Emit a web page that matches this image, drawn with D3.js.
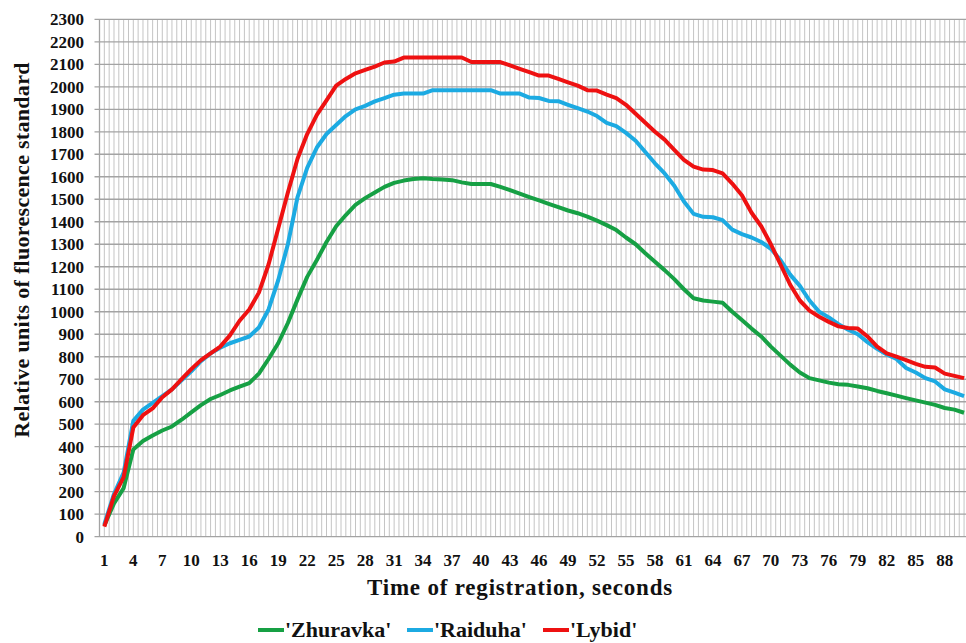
<!DOCTYPE html>
<html lang="en">
<head>
  <meta charset="UTF-8">
  <title>Relative units of fluorescence standard</title>
  <script src="https://d3js.org/d3.v7.min.js"></script>
  <style>
    body { margin: 0; background: #fff; }
    svg { display: block; }
  </style>
</head>
<body>
<div id="chart"></div>
<script>
  // categories: seconds 1..90
  const seconds = d3.range(1, 91);

  const zhuravka = [
    50, 148, 216, 388, 425, 450, 472, 490, 520, 553,
    585, 612, 630, 650, 667, 683, 725, 790, 860, 950,
    1055, 1155, 1230, 1310, 1380, 1430, 1475, 1505, 1530, 1555,
    1573, 1583, 1590, 1593, 1590, 1588, 1585, 1575, 1568, 1568,
    1568, 1555, 1541, 1525, 1510, 1495, 1480, 1465, 1450, 1438,
    1423, 1405, 1385, 1363, 1330, 1300, 1260, 1222, 1185, 1145,
    1100, 1060, 1050, 1045, 1040, 1000, 963, 925, 890, 845,
    805, 765, 730, 705, 695, 685, 678, 675, 668, 660,
    648, 638, 627, 616, 606, 596, 586, 572, 565, 551
  ];

  const raiduha = [
    55, 190, 285, 515, 565, 595, 625, 655, 695, 735,
    780, 815, 840, 860, 875, 890, 930, 1010, 1140, 1300,
    1510, 1640, 1730, 1790, 1830, 1870, 1900, 1915, 1935, 1950,
    1965, 1970, 1970, 1970, 1985, 1985, 1985, 1985, 1985, 1985,
    1985, 1970, 1970, 1970, 1952, 1950, 1937, 1936, 1920, 1905,
    1890, 1870, 1840, 1825, 1795, 1760, 1710, 1660, 1615, 1560,
    1490, 1435, 1422, 1420, 1407, 1365, 1345, 1330, 1310, 1280,
    1230, 1165, 1115, 1050, 1000, 975, 945, 920, 900, 865,
    835, 810, 790, 750, 730, 705, 690, 655, 640, 625
  ];

  const lybid = [
    45, 180, 265, 485, 540, 570, 620, 655, 700, 745,
    785, 815, 845, 895, 960, 1010, 1085, 1210, 1370, 1530,
    1680, 1790, 1875, 1940, 2005, 2035, 2060, 2075, 2090, 2108,
    2112, 2130, 2130, 2130, 2130, 2130, 2130, 2130, 2110, 2110,
    2110, 2110, 2095, 2080, 2065, 2050, 2050, 2035, 2020, 2005,
    1985, 1983, 1965, 1950, 1920, 1880, 1840, 1800, 1765, 1720,
    1675, 1645, 1632, 1630, 1615, 1570, 1518, 1440, 1380, 1300,
    1210, 1120, 1050, 1005, 978, 955, 935, 928, 925, 890,
    845, 815, 800, 785, 768, 755, 752, 725, 715, 705
  ];

  const seriesNames = ["'Zhuravka'", "'Raiduha'", "'Lybid'"];
  const seriesColors = ["#16a044", "#1caae2", "#ee1111"];
  const seriesValues = [zhuravka, raiduha, lybid];

  const yTicks = d3.range(0, 2301, 100);
  const xTickLabels = seconds.filter(s => (s - 1) % 3 === 0);

  const width = 966, height = 643;
  const plotLeft = 99.5, plotTop = 19.3, plotBottom = 536.7;
  const step = 9.66;
  const plotRight = plotLeft + step * seconds.length;
  const serif = "'Liberation Serif', 'DejaVu Serif Condensed', 'DejaVu Serif', serif";

  const svg = d3.select('#chart').append('svg')
    .attr('width', width)
    .attr('height', height)
    .attr('font-family', serif)
    .attr('font-weight', 'bold');

  const x = d3.scaleBand()
    .domain(seconds)
    .range([plotLeft, plotRight]);

  const y = d3.scaleLinear()
    .domain([0, 2300])
    .range([plotBottom, plotTop]);

  // vertical gridlines at category edges and centres
  const halfSteps = d3.range(0, seconds.length * 2 + 1).map(i => plotLeft + i * x.bandwidth() / 2);
  svg.append('g')
    .selectAll('line')
    .data(halfSteps)
    .enter().append('line')
    .attr('x1', d => d).attr('x2', d => d)
    .attr('y1', plotTop).attr('y2', plotBottom)
    .attr('stroke', '#c4c4c4')
    .attr('stroke-width', 1);

  // horizontal gridlines
  svg.append('g')
    .selectAll('line')
    .data(yTicks)
    .enter().append('line')
    .attr('x1', plotLeft - 5).attr('x2', plotRight)
    .attr('y1', d => y(d)).attr('y2', d => y(d))
    .attr('stroke', '#a3a3a3')
    .attr('stroke-width', 1.3);

  // y axis line
  svg.append('line')
    .attr('x1', plotLeft).attr('x2', plotLeft)
    .attr('y1', plotTop).attr('y2', plotBottom)
    .attr('stroke', '#a3a3a3')
    .attr('stroke-width', 1.3);

  // y tick labels
  svg.append('g')
    .selectAll('text')
    .data(yTicks)
    .enter().append('text')
    .attr('x', 84)
    .attr('y', d => y(d))
    .attr('dy', '0.35em')
    .attr('text-anchor', 'end')
    .attr('fill', '#111')
    .style('font-size', '17px')
    .text(d => d);

  // x tick labels
  svg.append('g')
    .selectAll('text')
    .data(xTickLabels)
    .enter().append('text')
    .attr('x', d => x(d) + x.bandwidth() / 2)
    .attr('y', 566)
    .attr('text-anchor', 'middle')
    .attr('fill', '#111')
    .style('font-size', '17px')
    .text(d => d);

  // axis titles
  svg.append('text')
    .attr('x', 520)
    .attr('y', 595)
    .attr('text-anchor', 'middle')
    .attr('fill', '#111')
    .style('font-size', '23px')
    .style('letter-spacing', '0.8px')
    .text('Time of registration, seconds');

  svg.append('text')
    .attr('transform', 'translate(29,250) rotate(-90)')
    .attr('text-anchor', 'middle')
    .attr('fill', '#111')
    .style('font-size', '22px')
    .style('letter-spacing', '0.3px')
    .text('Relative units of fluorescence standard');

  // lines
  const line = d3.line()
    .x((d, i) => x(seconds[i]) + x.bandwidth() / 2)
    .y(d => y(d));

  svg.append('g')
    .selectAll('path')
    .data(seriesValues)
    .enter().append('path')
    .attr('d', d => line(d))
    .attr('fill', 'none')
    .attr('stroke', (d, i) => seriesColors[i])
    .attr('stroke-width', 4)
    .attr('stroke-linejoin', 'round');

  // legend
  const legendX = [258, 407, 543];
  const legend = svg.append('g')
    .selectAll('g')
    .data(seriesNames)
    .enter().append('g')
    .attr('transform', (d, i) => `translate(${legendX[i]},630)`);

  legend.append('line')
    .attr('x1', 0).attr('x2', 26)
    .attr('y1', 0).attr('y2', 0)
    .attr('stroke', (d, i) => seriesColors[i])
    .attr('stroke-width', 4);

  legend.append('text')
    .attr('x', 27)
    .attr('y', 7)
    .attr('fill', '#111')
    .style('font-size', '22px')
    .text(d => d);
</script>
</body>
</html>
